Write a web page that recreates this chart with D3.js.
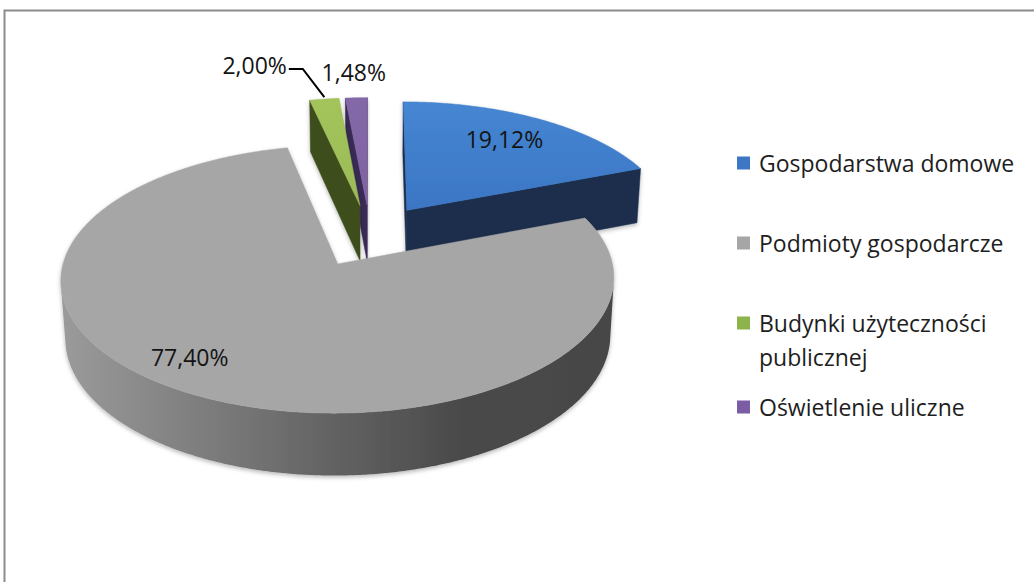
<!DOCTYPE html>
<html>
<head>
<meta charset="utf-8">
<script src="https://cdn.jsdelivr.net/npm/d3@7"></script>
<style>
  body { margin: 0; background: #ffffff; }
  svg { display: block; }
</style>
</head>
<body>
<svg id="chart" width="1034" height="582"></svg>
<script>
// ---- data ----
const categories = [
  "Gospodarstwa domowe",
  "Podmioty gospodarcze",
  "Budynki użyteczności publicznej",
  "Oświetlenie uliczne"
];
const legendLines = [
  ["Gospodarstwa domowe"],
  ["Podmioty gospodarcze"],
  ["Budynki użyteczności", "publicznej"],
  ["Oświetlenie uliczne"]
];
const shares = [19.12, 77.40, 2.00, 1.48];

// ---- styles ----
const topColors  = ["#3b76c4", "#a6a6a6", "#9bbb59", "#7f63a1"];
const topLight   = ["#4686d2", "#a6a6a6", "#a3c45a", "#8468a8"];
const sideColors = ["#1b2e4c", "#4a4a4a", "#3d4e1c", "#392a55"];
const legendColors = ["#3d76c2", "#a6a6a6", "#8db44a", "#7a5da5"];

// label placement in slice-local polar terms (angle shift in degrees, radius as fraction of R)
const labelPlacement = [
  { dAngle: -1.5, r: 0.75, outside: false },
  { dAngle: 8.8,  r: 0.815, outside: false },
  { dAngle: -10.2, r: 1.43, outside: true, leader: true },
  { dAngle: 0,    r: 1.275, outside: true }
];

const svg = d3.select("#chart");
const W = 1034, H = 582;

// chart frame
svg.append("rect")
  .attr("x", 4.5).attr("y", 10.5)
  .attr("width", W + 20).attr("height", H + 20)
  .attr("fill", "#ffffff")
  .attr("stroke", "#8c8c8c").attr("stroke-width", 2);

// ---- 3D scene ----
const scene = {
  R: 268,          // pie radius (world units)
  h: 65,           // pie thickness
  explode: 66.7,   // slice offset from the centre
  tilt: 28 * Math.PI / 180,
  D: 2125,         // camera distance
  cx: 370, cy: 235.6
};
const sinT = Math.sin(scene.tilt), cosT = Math.cos(scene.tilt);
const cam = [0, scene.D * sinT, scene.D * cosT];

function project([X, Y, Z]) {
  const w = Y * sinT + Z * cosT;
  const v = Y * cosT - Z * sinT;
  const s = scene.D / (scene.D - w);
  return [scene.cx + X * s, scene.cy - v * s];
}
const dir = phi => [Math.sin(phi), -Math.cos(phi)];
function worldPt(c, phi, r, Y) {
  const [dx, dz] = dir(phi);
  return [c[0] + r * dx, Y, c[1] + r * dz];
}

const pie = d3.pie().sort(null).value(d => d)
  .startAngle(0).endAngle(2 * Math.PI);
const arcs = pie(shares);

const fmtLocale = d3.formatLocale({ decimal: ",", thousands: " ", grouping: [3], currency: ["", " zł"] });
const fmtPct = v => fmtLocale.format(".2f")(v) + "%";

const defs = svg.append("defs");
const shadow = defs.append("filter").attr("id", "sliceShadow")
  .attr("x", "-10%").attr("y", "-10%").attr("width", "120%").attr("height", "130%");
shadow.append("feDropShadow")
  .attr("dx", 0).attr("dy", 2).attr("stdDeviation", 2.2)
  .attr("flood-color", "#000").attr("flood-opacity", 0.28);

const line = d3.line();
const polyPath = pts => line(pts.map(project)) + "Z";

const slices = arcs.map((a, i) => {
  const mid = (a.startAngle + a.endAngle) / 2;
  const [ox, oz] = dir(mid);
  const c = [ox * scene.explode, oz * scene.explode];
  const depth = c[1] * cosT;
  return { a, i, mid, c, depth };
});

// top surface gradients
slices.forEach(s => {
  const g = defs.append("linearGradient").attr("id", "top" + s.i)
    .attr("x1", 0).attr("y1", 0).attr("x2", 0).attr("y2", 1);
  g.append("stop").attr("offset", 0).attr("stop-color", topLight[s.i]);
  g.append("stop").attr("offset", 1).attr("stop-color", topColors[s.i]);
});
// outer wall gradient of the large slice (lit from the left)
const wallGrad = defs.append("linearGradient").attr("id", "wallGray")
  .attr("gradientUnits", "userSpaceOnUse")
  .attr("x1", 60).attr("y1", 0).attr("x2", 615).attr("y2", 0);
wallGrad.append("stop").attr("offset", 0).attr("stop-color", "#9b9b9b");
wallGrad.append("stop").attr("offset", 0.45).attr("stop-color", "#676767");
wallGrad.append("stop").attr("offset", 0.72).attr("stop-color", "#4a4a4a");
wallGrad.append("stop").attr("offset", 1).attr("stop-color", "#464646");

const pieG = svg.append("g");
const deg = Math.PI / 180;

slices.slice().sort((p, q) => p.depth - q.depth).forEach(s => {
  const { a, i, c } = s;
  const R = scene.R, h = scene.h;
  const g = pieG.append("g").attr("filter", "url(#sliceShadow)");
  const wallFill = i === 1 ? "url(#wallGray)" : sideColors[i];

  // radial cut faces
  [[a.startAngle, -1], [a.endAngle, 1]].forEach(([phi, sgn]) => {
    const n = [sgn * Math.cos(phi), sgn * Math.sin(phi)];
    const dot = n[0] * (cam[0] - c[0]) + n[1] * (cam[2] - c[1]);
    if (dot <= 0) return;
    const pts = [
      [c[0], 0, c[1]], worldPt(c, phi, R, 0),
      worldPt(c, phi, R, -h), [c[0], -h, c[1]]
    ];
    g.append("path").attr("d", polyPath(pts)).attr("fill", sideColors[i])
      .attr("stroke", sideColors[i]).attr("stroke-width", 0.5);
  });

  // outer curved wall, only the part facing the camera
  const steps = Math.max(2, Math.ceil((a.endAngle - a.startAngle) / (0.5 * deg)));
  const angs = d3.range(steps + 1).map(k => a.startAngle + (a.endAngle - a.startAngle) * k / steps);
  let run = [];
  const runs = [];
  for (let k = 0; k < steps; k++) {
    const pm = (angs[k] + angs[k + 1]) / 2;
    const [dx, dz] = dir(pm);
    const P = [c[0] + R * dx, c[1] + R * dz];
    const vis = dx * (cam[0] - P[0]) + dz * (cam[2] - P[1]) > 0;
    if (vis) {
      if (!run.length) run.push(angs[k]);
      run.push(angs[k + 1]);
    } else if (run.length) { runs.push(run); run = []; }
  }
  if (run.length) runs.push(run);
  runs.forEach(r => {
    const topPts = r.map(phi => worldPt(c, phi, R, 0));
    const botPts = r.slice().reverse().map(phi => worldPt(c, phi, R, -h));
    g.append("path").attr("d", polyPath(topPts.concat(botPts)))
      .attr("fill", wallFill).attr("stroke", "none");
  });

  // top surface
  const topPts = [[c[0], 0, c[1]]].concat(angs.map(phi => worldPt(c, phi, R, 0)));
  g.append("path").attr("d", polyPath(topPts))
    .attr("fill", `url(#top${i})`).attr("stroke", topColors[i]).attr("stroke-width", 0.5);
});

// ---- value labels ----
const labelG = svg.append("g")
  .attr("font-family", "'Open Sans', 'Noto Sans', sans-serif")
  .attr("font-size", 23).attr("fill", "#141414");

slices.forEach(s => {
  const lp = labelPlacement[s.i];
  const phi = s.mid + lp.dAngle * deg;
  const [x, y] = project(worldPt(s.c, phi, lp.r * scene.R, 0));
  const t = labelG.append("text")
    .attr("x", x).attr("y", y)
    .attr("text-anchor", "middle").attr("dominant-baseline", "central")
    .text(fmtPct(shares[s.i]));
  if (lp.leader) {
    const bb = t.node().getBBox();
    const rim = project(worldPt(s.c, s.mid, scene.R, 0));
    const ly = y + 4;
    const pts = [[bb.x + bb.width + 2, ly], [bb.x + bb.width + 16, ly], [rim[0], rim[1] - 2]];
    labelG.append("path").attr("d", d3.line()(pts))
      .attr("fill", "none").attr("stroke", "#000").attr("stroke-width", 2);
  }
});

// ---- legend ----
const legend = svg.append("g")
  .attr("font-family", "'Open Sans', 'Noto Sans', sans-serif")
  .attr("font-size", 23).attr("fill", "#1e1e1e");
const legendRows = [163, 243, 323, 407];
const lineGap = 34;
legendLines.forEach((lines, i) => {
  const y = legendRows[i];
  legend.append("rect")
    .attr("x", 737).attr("y", y - 6.5).attr("width", 13).attr("height", 13)
    .attr("fill", legendColors[i]);
  lines.forEach((ln, j) => {
    legend.append("text")
      .attr("x", 759).attr("y", y + j * lineGap)
      .attr("dominant-baseline", "central")
      .text(ln);
  });
});
</script>
</body>
</html>
